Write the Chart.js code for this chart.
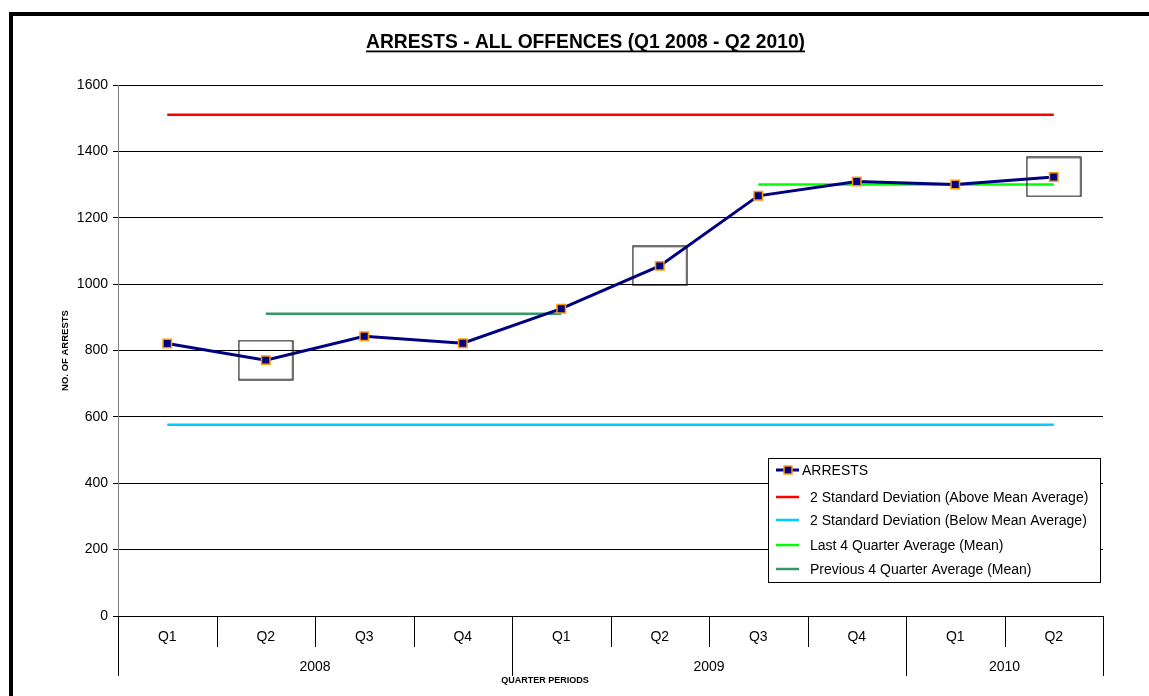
<!DOCTYPE html>
<html>
<head>
<meta charset="utf-8">
<script src="https://cdn.jsdelivr.net/npm/chart.js@4"></script>
<style>
  html, body { margin: 0; padding: 0; background: #fff; }
  #wrap { width: 1149px; height: 696px; }
</style>
</head>
<body>
<div id="wrap"><canvas id="arrests-chart" width="1149" height="696"></canvas></div>
<script>
const quarters = ['Q1', 'Q2', 'Q3', 'Q4', 'Q1', 'Q2', 'Q3', 'Q4', 'Q1', 'Q2'];
const years = ['2008', '2009', '2010'];
const yearSpans = [4, 4, 2];
const arrests = [821, 771, 843, 822, 926, 1055, 1266, 1309, 1300, 1323];
const upperSD = [1510, 1510, 1510, 1510, 1510, 1510, 1510, 1510, 1510, 1510];
const lowerSD = [576, 576, 576, 576, 576, 576, 576, 576, 576, 576];
const last4Avg = [null, null, null, null, null, null, 1300, 1300, 1300, 1300];
const prev4Avg = [null, 911, 911, 911, 911, null, null, null, null, null];
const highlighted = [1, 5, 9];

const fontName = '"Liberation Sans", Arial, sans-serif';

// box drawn around the highlighted quarters
const boxImg = document.createElement('canvas');
boxImg.width = 56;
boxImg.height = 41;
(() => {
    let c = boxImg.getContext('2d');
    c.strokeStyle = '#111';
    c.lineWidth = 1.2;
    c.strokeRect(1, 1, 54, 39);
})();

const frameAndText = {
    id: 'frameAndText',
    afterDraw: (chart) => {
        const ctx = chart.ctx;
        const x = chart.scales.x;
        const area = chart.chartArea;
        ctx.save();

        // outer frame
        ctx.fillStyle = '#000';
        ctx.fillRect(9, 12, 1140, 4);
        ctx.fillRect(9, 12, 4, 684);

        // title, squeezed like a narrow font
        let title = 'ARRESTS - ALL OFFENCES (Q1 2008 - Q2 2010)';
        ctx.font = 'bold 21px ' + fontName;
        let w = ctx.measureText(title).width;
        let tx = 366, target = 439;
        ctx.save();
        ctx.translate(tx, 48);
        ctx.scale(target / w, 1);
        ctx.textAlign = 'left';
        ctx.textBaseline = 'alphabetic';
        ctx.fillText(title, 0, 0);
        ctx.restore();
        ctx.fillRect(tx, 50.5, target, 1.8);

        // y axis title
        ctx.save();
        ctx.translate(65, (area.top + area.bottom) / 2);
        ctx.rotate(-Math.PI / 2);
        ctx.font = 'bold 9.5px ' + fontName;
        ctx.textAlign = 'center';
        ctx.textBaseline = 'middle';
        ctx.fillText('NO. OF ARRESTS', 0, 0);
        ctx.restore();

        // x axis: quarter separators, quarter labels, years
        let half = (x.getPixelForValue(1) - x.getPixelForValue(0)) / 2;
        ctx.strokeStyle = '#000';
        ctx.lineWidth = 1;
        ctx.font = '14px ' + fontName;
        ctx.textAlign = 'center';
        ctx.textBaseline = 'middle';
        quarters.forEach((q, i) => {
            let px = x.getPixelForValue(i);
            ctx.fillText(q, px, area.bottom + 21);
            let edge = Math.round(px + half) + 0.5;
            ctx.beginPath();
            ctx.moveTo(edge, area.bottom);
            ctx.lineTo(edge, area.bottom + 31);
            ctx.stroke();
        });
        let start = 0;
        let edges = [Math.round(area.left) + 0.5];
        years.forEach((y, i) => {
            let end = start + yearSpans[i] - 1;
            let mid = (x.getPixelForValue(start) + x.getPixelForValue(end)) / 2;
            ctx.fillText(y, mid, area.bottom + 51);
            edges.push(Math.round(x.getPixelForValue(end) + half) + 0.5);
            start = end + 1;
        });
        edges.forEach(e => {
            ctx.beginPath();
            ctx.moveTo(e, area.bottom);
            ctx.lineTo(e, area.bottom + 60);
            ctx.stroke();
        });
        ctx.font = 'bold 9px ' + fontName;
        ctx.fillText('QUARTER PERIODS', 545, area.bottom + 65);

        // legend
        let lx = 768.5, ly = 458.5, lw = 332, lh = 124;
        ctx.fillStyle = '#fff';
        ctx.fillRect(lx, ly, lw, lh);
        ctx.strokeStyle = '#000';
        ctx.strokeRect(lx, ly, lw, lh);
        let rows = [470, 497, 520, 545, 569];
        let sets = chart.data.datasets.filter(d => d.label);
        ctx.font = '14px ' + fontName;
        ctx.textAlign = 'left';
        ctx.textBaseline = 'middle';
        sets.forEach((d, i) => {
            let ry = rows[i];
            ctx.strokeStyle = d.borderColor;
            ctx.lineWidth = d.borderWidth;
            ctx.beginPath();
            ctx.moveTo(776, ry);
            ctx.lineTo(799, ry);
            ctx.stroke();
            if (d.pointRadius) {
                ctx.fillStyle = d.pointBackgroundColor;
                ctx.strokeStyle = d.pointBorderColor;
                ctx.lineWidth = 1.5;
                ctx.fillRect(784, ry - 4, 8, 8);
                ctx.strokeRect(784, ry - 4, 8, 8);
            }
            ctx.fillStyle = '#000';
            ctx.fillText(d.label, d.pointRadius ? 802 : 810, ry + 1);
        });
        ctx.restore();
    }
};

const whiteBg = {
    id: 'whiteBg',
    beforeDraw: (chart) => {
        chart.ctx.save();
        chart.ctx.fillStyle = '#fff';
        chart.ctx.fillRect(0, 0, chart.width, chart.height);
        chart.ctx.restore();
    }
};

const lineSet = (label, data, color) => ({
    label: label,
    data: data,
    borderColor: color,
    borderWidth: 2.5,
    pointRadius: 0,
    fill: false,
    spanGaps: false
});

new Chart(document.getElementById('arrests-chart'), {
    type: 'line',
    data: {
        labels: quarters,
        datasets: [
            {
                data: arrests.map((v, i) => highlighted.includes(i) ? v : null),
                showLine: false,
                pointStyle: boxImg,
                pointRadius: 20,
                borderColor: 'transparent'
            },
            {
                label: 'ARRESTS',
                data: arrests,
                borderColor: '#000080',
                borderWidth: 3,
                pointStyle: 'rect',
                pointRadius: 6,
                pointBackgroundColor: '#000080',
                pointBorderColor: '#FF9900',
                pointBorderWidth: 1.5
            },
            lineSet('2 Standard Deviation (Above Mean Average)', upperSD, '#FF0000'),
            lineSet('2 Standard Deviation (Below Mean Average)', lowerSD, '#00CCFF'),
            lineSet('Last 4 Quarter Average (Mean)', last4Avg, '#00FF00'),
            lineSet('Previous 4 Quarter Average (Mean)', prev4Avg, '#339966')
        ]
    },
    options: {
        responsive: false,
        animation: false,
        layout: {
            padding: { top: 85, right: 46, bottom: 0, left: 0 }
        },
        plugins: {
            legend: { display: false },
            tooltip: { enabled: false },
            title: { display: false }
        },
        scales: {
            x: {
                offset: true,
                grid: { display: false },
                border: { display: false },
                ticks: { display: false },
                afterFit: (scale) => { scale.height = 80; }
            },
            y: {
                min: 0,
                max: 1600,
                ticks: {
                    stepSize: 200,
                    color: '#000',
                    padding: 5,
                    font: { family: fontName, size: 14 },
                    callback: (v) => String(v)
                },
                grid: {
                    color: '#000',
                    lineWidth: 1,
                    tickLength: 5
                },
                border: { color: '#808080', width: 1 },
                afterFit: (scale) => { scale.width = 118; }
            }
        }
    },
    plugins: [whiteBg, frameAndText]
});
</script>
</body>
</html>
